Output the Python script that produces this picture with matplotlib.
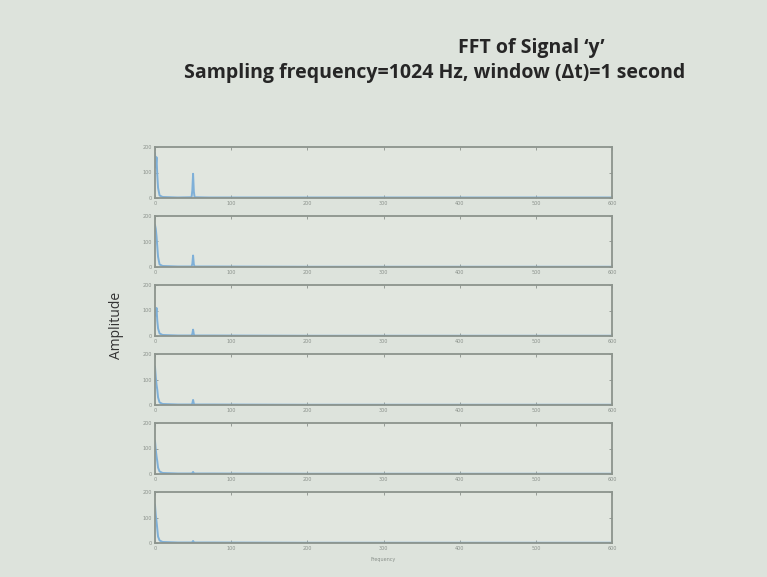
import numpy as np
import matplotlib.pyplot as plt

# spectrum samples per panel (frequency in Hz, amplitude)
freqs = [0, 1, 2, 3, 4, 6, 10, 30, 48, 49, 50, 51, 52, 70, 200, 400, 600]
amp1 = [175, 120, 160, 90, 40, 10, 4, 2, 3, 30, 95, 25, 3, 2, 2, 2, 2]
amp2 = [165, 150, 120, 80, 40, 10, 4, 2, 2, 12, 45, 10, 2, 2, 1, 1, 1]
amp3 = [100, 80, 110, 60, 30, 10, 4, 2, 2, 8, 25, 6, 2, 2, 1, 1, 1]
amp4 = [150, 110, 80, 60, 30, 10, 4, 2, 2, 6, 20, 5, 2, 2, 1, 1, 1]
amp5 = [130, 95, 70, 50, 25, 10, 4, 2, 2, 3, 8, 3, 2, 2, 1, 1, 1]
amp6 = [150, 110, 85, 55, 25, 10, 4, 2, 2, 3, 8, 3, 2, 2, 1, 1, 1]
panels = [amp1, amp2, amp3, amp4, amp5, amp6]
xticks = [0, 100, 200, 300, 400, 500, 600]

bg = '#dde3dc'
fig = plt.figure(figsize=(7.67, 5.77), dpi=100, facecolor=bg)

tops = [147, 216, 285, 354, 423, 492]
for top, amp in zip(tops, panels):
    ax = fig.add_axes([155/767, 1 - (top + 51)/577, 457/767, 51/577])
    ax.set_facecolor('#e1e6df')
    ax.plot(freqs, amp, color='#7fb0d8', lw=1.4)
    ax.set_xlim(0, 600)
    ax.set_ylim(0, 200)
    ax.set_xticks(xticks)
    ax.set_yticks([0, 100, 200])
    ax.tick_params(labelsize=3.5, colors='#8a918b', length=2, width=0.6,
                   direction='in', top=True, right=True, pad=2)
    for s in ax.spines.values():
        s.set_color('#8c948d')
        s.set_linewidth(1.3)

fig.text(531/767, 1 - 48/577, 'FFT of Signal ‘y’', ha='center', va='center',
         fontsize=14, fontweight='bold', family='Open Sans', color='#262626')
fig.text(435/767, 1 - 73/577, 'Sampling frequency=1024 Hz, window (Δt)=1 second',
         ha='center', va='center', fontsize=14, fontweight='bold',
         family='Open Sans', color='#262626')
fig.text(116/767, 1 - 325/577, 'Amplitude', rotation=90, ha='center', va='center',
         fontsize=10, family='Open Sans', color='#333333')
fig.text(383/767, 1 - 559/577, 'Frequency', ha='center', va='center',
         fontsize=3.5, color='#8a918b')

fig.savefig('out.png', dpi=100, facecolor=bg)
